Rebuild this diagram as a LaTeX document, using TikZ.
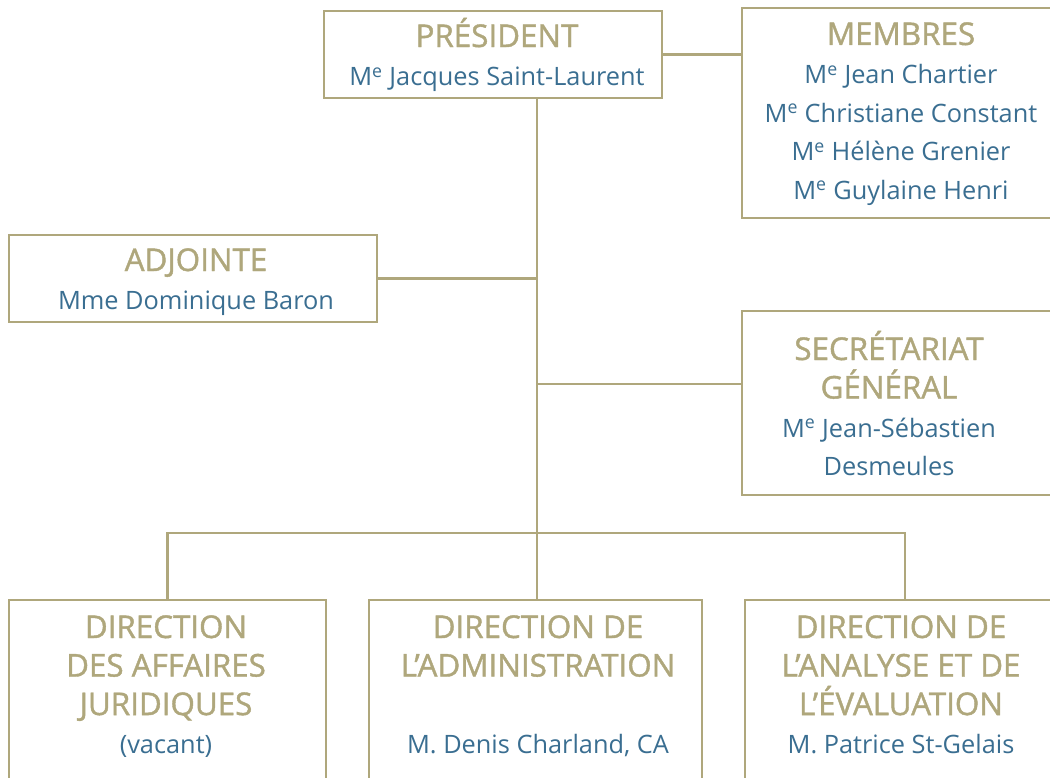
\documentclass[tikz,border=0pt]{standalone}
\usepackage{fontspec}
\setmainfont{Open Sans}
\newfontfamily\tfont[FakeBold=1.3]{Open Sans}
\usetikzlibrary{fit}
\definecolor{gold}{RGB}{175,167,124}
\definecolor{bleu}{RGB}{58,110,145}
\newcommand\ttl[1]{\smash{\color{gold}\tfont\fontsize{23.5pt}{28.9pt}\selectfont #1}}
\newcommand\nm[1]{\smash{\color{bleu}\fontsize{19pt}{28.9pt}\selectfont #1}}
\newcommand\Me{M\textsuperscript{e}}
\newenvironment{lines}{\begin{tabular}[t]{@{}c@{}}}{\end{tabular}}
\tikzset{
  box/.style={draw=gold, line width=1.5pt, inner sep=0pt},
  conn/.style={draw=gold, line width=1.9pt},
  txt/.style={anchor=base, inner sep=0pt, font=\fontsize{19pt}{28.9pt}\selectfont},
}
\begin{document}
\begin{tikzpicture}[x=0.75pt, y=-0.75pt]
\useasboundingbox (0,0) rectangle (1050,778);
\clip (0,0) rectangle (1050,778);
% boxes
\node[box, fit={(324,11) (662,98)}] (pres) {};
\node[box, fit={(742,8) (1062,218)}] (mem) {};
\node[box, fit={(9,235) (377,322)}] (adj) {};
\node[box, fit={(742,311) (1062,495)}] (sec) {};
\node[box, fit={(9,600) (326,800)}] (daj) {};
\node[box, fit={(369,600) (702,800)}] (da) {};
\node[box, fit={(745,600) (1065,800)}] (dae) {};
% junctions
\coordinate (bus) at (537,533);
\coordinate (secj) at (742,384);
% connectors
\draw[conn] (pres.south -| bus) -- (bus);
\draw[conn] (pres.east) -- (pres.east -| mem.west);
\draw[conn] (adj.east) -- (adj.east -| bus);
\draw[conn] (secj) -- (secj -| bus);
\draw[conn] (daj.north) -- (daj.north |- bus) -- (dae.north |- bus) -- (dae.north);
\draw[conn] (bus) -- (da.north -| bus);
% texts
\node[txt] (ptxt) at (497,47) {\begin{lines}\ttl{PRÉSIDENT}\\ \nm{\Me{} Jacques Saint-Laurent}\end{lines}};
\node[txt] (mtxt) at (901,45) {\begin{lines}\ttl{MEMBRES}\\ \nm{\Me{} Jean Chartier}\\ \nm{\Me{} Christiane Constant}\\ \nm{\Me{} Hélène Grenier}\\ \nm{\Me{} Guylaine Henri}\end{lines}};
\node[txt] (atxt) at (196,271) {\begin{lines}\ttl{ADJOINTE}\\ \nm{Mme Dominique Baron}\end{lines}};
\node[txt] (stxt) at (889,360) {\begin{lines}\ttl{SECRÉTARIAT}\\ \ttl{GÉNÉRAL}\\ \nm{\Me{} Jean-Sébastien}\\ \nm{Desmeules}\end{lines}};
\node[txt] (jtxt) at (166,638) {\begin{lines}\ttl{DIRECTION}\\ \ttl{DES AFFAIRES}\\ \ttl{JURIDIQUES}\\ \nm{(vacant)}\end{lines}};
\node[txt] (dtxt) at (538,638) {\begin{lines}\ttl{DIRECTION DE}\\ \ttl{L’ADMINISTRATION}\\ \\ \nm{M. Denis Charland, CA}\end{lines}};
\node[txt] (etxt) at (901,638) {\begin{lines}\ttl{DIRECTION DE}\\ \ttl{L’ANALYSE ET DE}\\ \ttl{L’ÉVALUATION}\\ \nm{M. Patrice St-Gelais}\end{lines}};
\end{tikzpicture}
\end{document}
